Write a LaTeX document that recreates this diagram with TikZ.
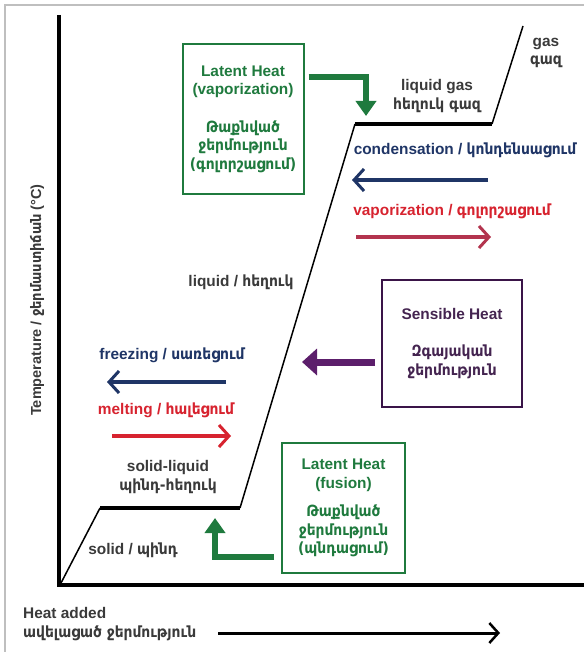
\documentclass[tikz,border=0pt]{standalone}
\usepackage{fontspec}
\setmainfont{Liberation Sans}
\newfontfamily\hyfont{DejaVu Sans Condensed}
\newcommand{\hy}[1]{{\hyfont #1}}
\usetikzlibrary{arrows.meta}
\definecolor{latgreen}{HTML}{1F7A3E}
\definecolor{navyblue}{HTML}{1F3566}
\definecolor{phasered}{HTML}{D7232F}
\definecolor{vapred}{HTML}{B3344E}
\definecolor{sensviolet}{HTML}{3A1448}
\definecolor{sensarrow}{HTML}{5C1E6B}
\definecolor{labelgray}{HTML}{3A3A3A}
\tikzset{
  txt/.style={font=\bfseries\fontsize{15.4}{18.5}\selectfont, align=center, inner sep=0pt},
  phaselbl/.style={txt, text=labelgray},
  latentbox/.style={txt, draw=latgreen, text=latgreen, line width=2pt},
  sensbox/.style={txt, draw=sensviolet, text=sensviolet!85!gray, line width=2pt},
  barbarrow/.style={line width=4pt, -{Straight Barb[length=10pt,width=22pt,line width=3pt]}},
  blockarrow/.style={line width=6.5pt, -{Triangle[length=15pt,width=20pt]}},
}
\begin{document}
\begin{tikzpicture}[x=1pt, y=-1pt]
    \useasboundingbox (0,0) rectangle (584,652);
    % frame
    \draw[gray!50, line width=2pt] (5,652) -- (5,5) -- (584,5);
    % axes
    \draw[line width=3.5pt] (59,15) -- (59,587);
    \draw[line width=4.5pt] (57,585) -- (584,585);
    % heating curve
    \coordinate (O) at (61,583);
    \coordinate (S1) at (100,508);
    \coordinate (S2) at (240,508);
    \coordinate (L1) at (355,124);
    \coordinate (L2) at (492,124);
    \coordinate (G) at (523,26);
    \draw[line width=1.5pt] (O) -- (S1);
    \draw[line width=4pt] (S1) -- (S2);
    \draw[line width=1.5pt] (S2) -- (L1);
    \draw[line width=4pt] (L1) -- (L2);
    \draw[line width=1.5pt] (L2) -- (G);
    % phase labels
    \node[phaselbl] (gas) at (546,53) {gas\\\hy{գազ}};
    \node[phaselbl] (liqgas) at (437,96) {liquid gas\\\hy{հեղուկ գազ}};
    \node[phaselbl] (liq) at (241,282) {liquid / \hy{հեղուկ}};
    \node[phaselbl] (solliq) at (168,477) {solid-liquid\\\hy{պինդ-հեղուկ}};
    \node[phaselbl] (sol) at (133,550) {solid / \hy{պինդ}};
    % change of phase
    \node[txt, text=navyblue] (cond) at (465,150) {condensation / \hy{կոնդենսացում}};
    \node[txt, text=phasered] (vap) at (452,211) {vaporization / \hy{գոլորշացում}};
    \node[txt, text=navyblue] (frz) at (172,355) {freezing / \hy{սառեցում}};
    \node[txt, text=phasered] (mlt) at (166,410) {melting / \hy{հալեցում}};
    \coordinate (C1) at (488,180);
    \coordinate (C2) at (352,180);
    \coordinate (V1) at (356,237);
    \coordinate (V2) at (491,237);
    \coordinate (F1) at (226,382);
    \coordinate (F2) at (107,382);
    \coordinate (M1) at (112,436);
    \coordinate (M2) at (231,436);
    \draw[barbarrow, navyblue] (C1) -- (C2);
    \draw[barbarrow, vapred] (V1) -- (V2);
    \draw[barbarrow, navyblue] (F1) -- (F2);
    \draw[barbarrow, phasered] (M1) -- (M2);
    % heat boxes
    \node[latentbox, minimum width=121pt, minimum height=150pt] (vapbox) at (243,119)
        {Latent Heat\\(vaporization)\\[19pt]\hy{Թաքնված}\\\hy{ջերմություն}\\\hy{(գոլորշացում)}};
    \node[latentbox, minimum width=123pt, minimum height=130pt] (fusbox) at (343.5,508)
        {Latent Heat\\(fusion)\\[10pt]\hy{Թաքնված}\\\hy{ջերմություն}\\\hy{(պնդացում)}};
    \node[sensbox, minimum width=140pt, minimum height=127pt] (sensbox) at (452,343.5)
        {Sensible Heat\\[19pt]\hy{Զգայական}\\\hy{ջերմություն}};
    \coordinate (vaptip) at (366,116);
    \coordinate (fustip) at (215,518);
    \coordinate (senstip) at (302,362);
    \draw[blockarrow, latgreen] ([xshift=4pt,yshift=42pt]vapbox.east) -| (vaptip);
    \draw[blockarrow, latgreen] ([xshift=-7pt,yshift=-49pt]fusbox.west) -| (fustip);
    \draw[line width=7pt, sensarrow, -{Triangle[length=15pt,width=26pt]}]
        ([xshift=-6pt,yshift=-18.5pt]sensbox.west) -- (senstip);
    % axis titles
    \node[txt, text=labelgray, font=\bfseries\fontsize{14.5}{17}\selectfont, rotate=90]
        (temp) at (37,300) {Temperature / \hy{ջերմաստիճան} (°C)};
    \node[txt, text=labelgray, align=left, anchor=west] (heat) at (23,624)
        {Heat added\\\hy{ավելացած ջերմություն}};
    \coordinate (H1) at (218,633);
    \coordinate (H2) at (500,633);
    \draw[line width=3pt, -{Straight Barb[length=9pt,width=20pt,line width=2.5pt]}] (H1) -- (H2);
\end{tikzpicture}
\end{document}
